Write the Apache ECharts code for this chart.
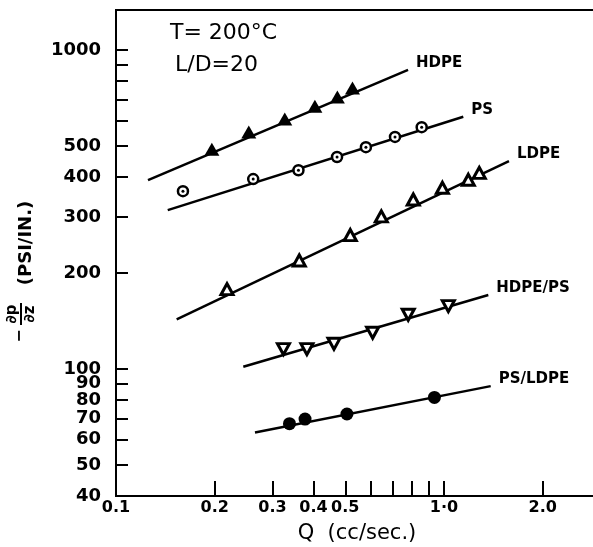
<!DOCTYPE html>
<html><head><meta charset="utf-8">
<script src="https://cdn.jsdelivr.net/npm/echarts@6/dist/echarts.min.js"></script>
<style>html,body{margin:0;padding:0;background:#fff}#c{width:593px;height:547px}</style>
</head><body><div id="c"></div>
<script>
// Axis ticks / labels
const xTickValues = [0.2, 0.3, 0.4, 0.5, 0.6, 0.7, 0.8, 0.9, 1, 2];
const xLabelValues = [0.1, 0.2, 0.3, 0.4, 0.5, 1, 2];
const yTickValues = [40, 50, 60, 70, 80, 90, 100, 200, 300, 400, 500, 600, 700, 800, 900, 1000];
const yLabelValues = [40, 50, 60, 70, 80, 90, 100, 200, 300, 400, 500, 1000];

// Measured points (Q cc/sec, -dp/dz PSI/IN)
const hdpeQ = [0.196, 0.254, 0.327, 0.404, 0.473, 0.526];
const hdpeP = [489, 553, 608, 667, 712, 760];
const psQ = [0.160, 0.262, 0.360, 0.472, 0.578, 0.709, 0.855];
const psP = [361, 394, 420, 462, 496, 534, 573];
const ldpeQ = [0.218, 0.362, 0.518, 0.644, 0.806, 0.989, 1.186, 1.281];
const ldpeP = [178, 219, 263, 301, 340, 370, 392, 412];
const hdpePsQ = [0.324, 0.382, 0.462, 0.606, 0.778, 1.031];
const hdpePsP = [115.5, 115.5, 120, 130, 148, 157.5];
const psLdpeQ = [0.338, 0.377, 0.506, 0.935];
const psLdpeP = [67.4, 69.7, 72.3, 81.5];

// Fitted straight lines (end points)
const hdpeFitQ = [0.1252, 0.777];
const hdpeFitP = [391, 866];
const psFitQ = [0.1438, 1.145];
const psFitP = [315, 618];
const ldpeFitQ = [0.1531, 1.578];
const ldpeFitP = [143.2, 448.8];
const hdpePsFitQ = [0.2444, 1.365];
const hdpePsFitP = [101.7, 170.6];
const psLdpeFitQ = [0.2653, 1.388];
const psLdpeFitP = [63.3, 88.4];

const zip = (a, b) => a.map((v, i) => [v, b[i]]);
const FONT = 'DejaVu Sans';

function fitLine(name, q, p) {
  return {
    type: 'line', name: name, data: zip(q, p), showSymbol: false, silent: true,
    lineStyle: { color: '#000', width: 2.5 }, z: 2,
    endLabel: { show: true, formatter: name, color: '#000', fontFamily: FONT,
      fontWeight: 'bold', fontSize: 15, distance: 8, offset: [0, -7] }
  };
}

const chart = echarts.init(document.getElementById('c'));
chart.setOption({
  animation: false,
  backgroundColor: '#fff',
  grid: { left: 116, top: 10, right: -3, bottom: 51, show: true, borderColor: '#000',
    borderWidth: 2, backgroundColor: 'transparent', outerBoundsMode: 'none' },
  xAxis: {
    type: 'log', logBase: 10, min: 0.1, max: 2.907,
    name: 'Q  (cc/sec.)', nameLocation: 'middle', nameGap: 27,
    nameTextStyle: { fontFamily: FONT, fontSize: 21, color: '#000', padding: [0, 0, 0, 2] },
    axisLine: { lineStyle: { color: '#000', width: 2 } },
    axisTick: { inside: true, length: 15, lineStyle: { color: '#000', width: 2 }, customValues: xTickValues },
    axisLabel: { customValues: xLabelValues, margin: 4, color: '#000', fontFamily: FONT,
      fontWeight: 'bold', fontSize: 16,
      formatter: v => (v === 1 ? '1·0' : v === 2 ? '2.0' : String(v)) },
    splitLine: { show: false }, minorTick: { show: false }
  },
  yAxis: {
    type: 'log', logBase: 10, min: 40, max: 1335,
    axisLine: { lineStyle: { color: '#000', width: 2 } },
    axisTick: { inside: true, length: 12, lineStyle: { color: '#000', width: 2 }, customValues: yTickValues },
    axisLabel: { customValues: yLabelValues, margin: 15, color: '#000', fontFamily: FONT,
      fontWeight: 'bold', fontSize: 18, formatter: v => String(v) },
    splitLine: { show: false }, minorTick: { show: false }
  },
  series: [
    fitLine('HDPE', hdpeFitQ, hdpeFitP),
    fitLine('PS', psFitQ, psFitP),
    fitLine('LDPE', ldpeFitQ, ldpeFitP),
    fitLine('HDPE/PS', hdpePsFitQ, hdpePsFitP),
    fitLine('PS/LDPE', psLdpeFitQ, psLdpeFitP),
    { type: 'scatter', name: 'HDPE pts', data: zip(hdpeQ, hdpeP), symbol: 'triangle', symbolSize: [15, 13],
      itemStyle: { color: '#000', opacity: 1 }, z: 5 },
    { type: 'scatter', name: 'PS pts', data: zip(psQ, psP), symbol: 'circle', symbolSize: 10,
      itemStyle: { color: '#fff', borderColor: '#000', borderWidth: 2.5, opacity: 1 }, z: 5 },
    { type: 'scatter', name: 'PS dots', data: zip(psQ, psP), symbol: 'circle', symbolSize: 3,
      itemStyle: { color: '#000', opacity: 1 }, z: 6 },
    { type: 'scatter', name: 'LDPE pts', data: zip(ldpeQ, ldpeP), symbol: 'triangle', symbolSize: [12, 11],
      itemStyle: { color: '#fff', borderColor: '#000', borderWidth: 3, opacity: 1 }, z: 5 },
    { type: 'scatter', name: 'HDPE/PS pts', data: zip(hdpePsQ, hdpePsP), symbol: 'triangle', symbolRotate: 180,
      symbolSize: [12, 11], itemStyle: { color: '#fff', borderColor: '#000', borderWidth: 3, opacity: 1 }, z: 5 },
    { type: 'scatter', name: 'PS/LDPE pts', data: zip(psLdpeQ, psLdpeP), symbol: 'circle', symbolSize: 13,
      itemStyle: { color: '#000', opacity: 1 }, z: 5 }
  ],
  graphic: [
    { type: 'text', x: 170, y: 33, style: { text: 'T= 200°C', font: '22px "DejaVu Sans"', fill: '#000', verticalAlign: 'middle' } },
    { type: 'text', x: 175, y: 65, style: { text: 'L/D=20', font: '22px "DejaVu Sans"', fill: '#000', verticalAlign: 'middle' } },
    { type: 'group', x: 26, y: 270, rotation: Math.PI / 2, children: [
      { type: 'text', x: 27, y: 0, style: { text: '(PSI/IN.)', font: 'bold 18px "DejaVu Sans"', fill: '#000', align: 'center', verticalAlign: 'middle' } },
      { type: 'text', x: -44, y: -14, style: { text: '∂p', font: 'bold 15px "DejaVu Sans"', fill: '#000', align: 'center', verticalAlign: 'middle' } },
      { type: 'line', shape: { x1: -55, y1: -5, x2: -33, y2: -5 }, style: { stroke: '#000', lineWidth: 2 } },
      { type: 'text', x: -44, y: 4, style: { text: '∂z', font: 'bold 15px "DejaVu Sans"', fill: '#000', align: 'center', verticalAlign: 'middle' } },
      { type: 'text', x: -66, y: -6, style: { text: '−', font: 'bold 16px "DejaVu Sans"', fill: '#000', align: 'center', verticalAlign: 'middle' } }
    ] }
  ]
});
</script>
</body></html>
